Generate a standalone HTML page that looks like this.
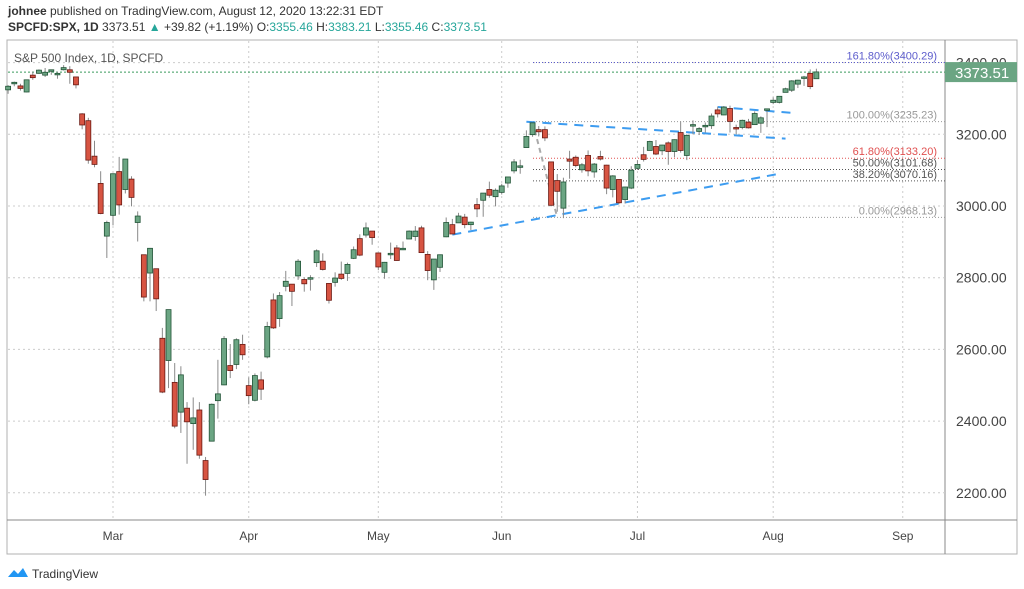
<!DOCTYPE html>
<html><head><meta charset="utf-8"><style>
body{margin:0;background:#fff;font-family:"Liberation Sans",sans-serif;}
svg{display:block}
</style></head><body>
<svg id="c" width="1024" height="589" xmlns="http://www.w3.org/2000/svg">
<text x="8" y="15" font-size="12" fill="#333"><tspan font-weight="bold">johnee</tspan> published on TradingView.com, August 12, 2020 13:22:31 EDT</text>
<text x="8" y="31" font-size="12" fill="#333"><tspan font-weight="bold">SPCFD:SPX, 1D</tspan> 3373.51 <tspan fill="#26a69a">▲</tspan> +39.82 (+1.19%) O:<tspan fill="#26a69a">3355.46</tspan> H:<tspan fill="#26a69a">3383.21</tspan> L:<tspan fill="#26a69a">3355.46</tspan> C:<tspan fill="#26a69a">3373.51</tspan></text>
<rect x="7" y="40" width="1010" height="514" fill="none" stroke="#b0b0b0"/>
<line x1="945" y1="40" x2="945" y2="554" stroke="#888"/>
<line x1="7" y1="520" x2="1017" y2="520" stroke="#888"/>
<g id="grid"></g><g id="fib"></g><g id="trend"></g><g id="candles"></g><g id="axes"></g>
<text x="14" y="62" font-size="12" fill="#555">S&amp;P 500 Index, 1D, SPCFD</text>
<g><path d="M8 577 l6 -7 l4 4 l5 -6 l5 9 z" fill="#2196f3"/><text x="32" y="578" font-size="12" fill="#333">TradingView</text></g>
</svg>
<script>
const NS="http://www.w3.org/2000/svg";
const open_=[3324,3344,3335,3318,3365,3370,3365,3378,3369,3380,3380,3360,3257,3238,3139,3063,2916,2974,3096,3046,3075,2954,2864,2813,2825,2631,2569,2508,2425,2436,2393,2431,2290,2344,2457,2501,2555,2558,2614,2499,2458,2515,2579,2738,2686,2776,2782,2805,2795,2799,2842,2846,2784,2787,2810,2812,2854,2909,2919,2930,2869,2815,2868,2883,2878,2908,2915,2939,2865,2794,2829,2914,2948,2953,2969,2948,3004,3016,3046,3026,3038,3064,3098,3112,3163,3199,3213,3213,3123,3071,2994,3131,3136,3101,3141,3095,3138,3114,3046,3074,3018,3050,3105,3143,3155,3166,3154,3176,3152,3205,3141,3225,3208,3224,3224,3268,3254,3272,3219,3219,3234,3227,3231,3270,3289,3289,3317,3323,3340,3356,3370,3355];
const high_=[3337,3347,3341,3352,3375,3381,3385,3380,3375,3393,3390,3360,3259,3246,3182,3097,2959,3091,3137,3131,3083,2985,2863,2883,2825,2660,2711,2562,2553,2453,2466,2453,2300,2449,2571,2637,2615,2631,2641,2522,2533,2538,2677,2756,2760,2819,2782,2852,2801,2807,2879,2868,2785,2815,2845,2842,2887,2921,2954,2930,2869,2844,2898,2891,2901,2932,2944,2945,2874,2852,2865,2968,2964,2981,2978,2956,3022,3036,3068,3049,3062,3081,3131,3129,3211,3233,3223,3222,3124,3089,3079,3154,3141,3120,3155,3120,3154,3115,3086,3074,3054,3111,3128,3165,3182,3184,3171,3180,3186,3236,3200,3239,3220,3233,3258,3277,3279,3280,3227,3241,3243,3264,3250,3272,3303,3306,3330,3351,3352,3363,3381,3383];
const low_=[3313,3334,3322,3317,3352,3369,3360,3366,3355,3378,3341,3328,3214,3118,3108,2977,2855,2946,2976,3035,2999,2901,2734,2734,2707,2478,2492,2380,2367,2281,2320,2295,2192,2344,2407,2500,2520,2545,2571,2447,2455,2459,2575,2657,2663,2762,2721,2794,2761,2764,2830,2820,2728,2775,2794,2791,2852,2860,2912,2892,2821,2797,2852,2847,2877,2909,2903,2869,2793,2766,2816,2913,2922,2953,2938,2933,2969,2970,3023,2999,3032,3051,3091,3090,3163,3193,3194,3181,2999,2984,2966,3076,3108,3093,3083,3079,3127,3033,3024,3005,3007,3047,3101,3124,3155,3142,3142,3115,3136,3149,3128,3200,3198,3205,3215,3247,3253,3205,3200,3214,3216,3227,3204,3220,3284,3286,3317,3318,3329,3335,3326,3355];
const close_=[3334,3345,3328,3352,3358,3379,3373,3380,3370,3386,3373,3338,3226,3128,3116,2979,2954,3090,3003,3131,3024,2972,2746,2882,2741,2481,2711,2386,2529,2398,2409,2305,2237,2447,2476,2630,2541,2627,2585,2471,2527,2489,2664,2660,2750,2790,2762,2846,2783,2800,2875,2823,2737,2799,2798,2837,2878,2863,2939,2912,2830,2843,2868,2848,2882,2930,2930,2870,2820,2852,2864,2954,2922,2972,2948,2955,2992,3036,3030,3044,3056,3081,3123,3112,3194,3232,3207,3190,3002,3041,3067,3125,3113,3115,3098,3117,3131,3050,3084,3009,3053,3100,3116,3130,3180,3145,3170,3152,3185,3155,3197,3227,3216,3225,3251,3257,3276,3236,3216,3239,3218,3258,3246,3271,3295,3306,3327,3349,3351,3360,3333,3374];
const priceTicks=[2200,2400,2600,2800,3000,3200,3400];
const monthLabels=["Mar","Apr","May","Jun","Jul","Aug","Sep"];
const monthIdx=[17,39,60,80,102,124,145];
const fibLevels=[3400.29,3235.23,3133.20,3101.68,3070.16,2968.13];
const fibPct=["161.80%","100.00%","61.80%","50.00%","38.20%","0.00%"];
const fibColors=["#5c5ccc","#999","#e05050","#555","#555","#999"];
const lastPrice=3373.51;
// trend lines as [startIdx,startPrice,endIdx,endPrice]
const trendLines=[[84,3235,126,3188],[72,2920,125,3090],[115,3276,127,3260]];
const X=i=>113+(i-17)*6.17;
const Y=v=>206-(v-3000)*0.3585;
function mk(tag,attrs,parent){const e=document.createElementNS(NS,tag);for(const k in attrs)e.setAttribute(k,attrs[k]);parent.appendChild(e);return e;}
const grid=document.getElementById('grid'),axes=document.getElementById('axes'),fib=document.getElementById('fib'),trend=document.getElementById('trend'),cg=document.getElementById('candles');
priceTicks.forEach(p=>{
 const l=mk('line',{x1:8,x2:945,y1:Y(p),y2:Y(p),stroke:'#ccc','stroke-dasharray':'2,3'},grid);
 
 
 const t=mk('text',{x:956,y:Y(p)+5,'font-size':14,fill:'#444'},axes);t.textContent=p.toFixed(2);
 
 
});
monthIdx.forEach((m,k)=>{
 const l=mk('line',{x1:X(m),x2:X(m),y1:41,y2:520,stroke:'#ccc','stroke-dasharray':'2,3'},grid);
 
 
 const t=mk('text',{x:X(m),y:540,'font-size':12,fill:'#444','text-anchor':'middle'},axes);t.textContent=monthLabels[k];
 
 
});
fibLevels.forEach((v,k)=>{
 const l=mk('line',{x1:533,x2:945,y1:Y(v),y2:Y(v),stroke:fibColors[k],'stroke-dasharray':'1,2'},fib);
 
 
 const t=mk('text',{x:937,y:Y(v)-3,'font-size':11,fill:fibColors[k],'text-anchor':'end'},fib);t.textContent=fibPct[k]+'('+v.toFixed(2)+')';
 
 
});
const gl=mk('line',{x1:X(85),y1:Y(3235),x2:X(89),y2:Y(2968),stroke:'#aaa','stroke-width':2,'stroke-dasharray':'5,4'},trend);


trendLines.forEach(t=>{
 const l=mk('line',{x1:X(t[0]),y1:Y(t[1]),x2:X(t[2]),y2:Y(t[3]),stroke:'#3d9cf0','stroke-width':2,'stroke-dasharray':'9,7'},trend);
 
 
});
const pl=mk('line',{x1:8,x2:945,y1:Y(lastPrice),y2:Y(lastPrice),stroke:'#3a9a5c','stroke-dasharray':'2,2'},grid);


open_.forEach((o,i)=>{
 const c=close_[i],up=c>=o,x=X(i);
 const w=mk('line',{x1:x,x2:x,y1:Y(high_[i]),y2:Y(low_[i]),stroke:'#8a8a8a'},cg);
 
 
 const top=Y(Math.max(o,c)),h=Math.max(1.5,Y(Math.min(o,c))-top);
 const b=mk('rect',{x:x-2.5,y:top,width:5,height:h,fill:up?'#6ba583':'#d75442',stroke:up?'#225437':'#6b1a13','stroke-width':0.8},cg);
 
 
});
const box=mk('rect',{x:945,y:Y(lastPrice)-10,width:72,height:20,fill:'#6ba583'},axes);


const bt=mk('text',{x:955,y:Y(lastPrice)+6,'font-size':15,fill:'#fff'},axes);bt.textContent=lastPrice.toFixed(2);


</script>
</body></html>
